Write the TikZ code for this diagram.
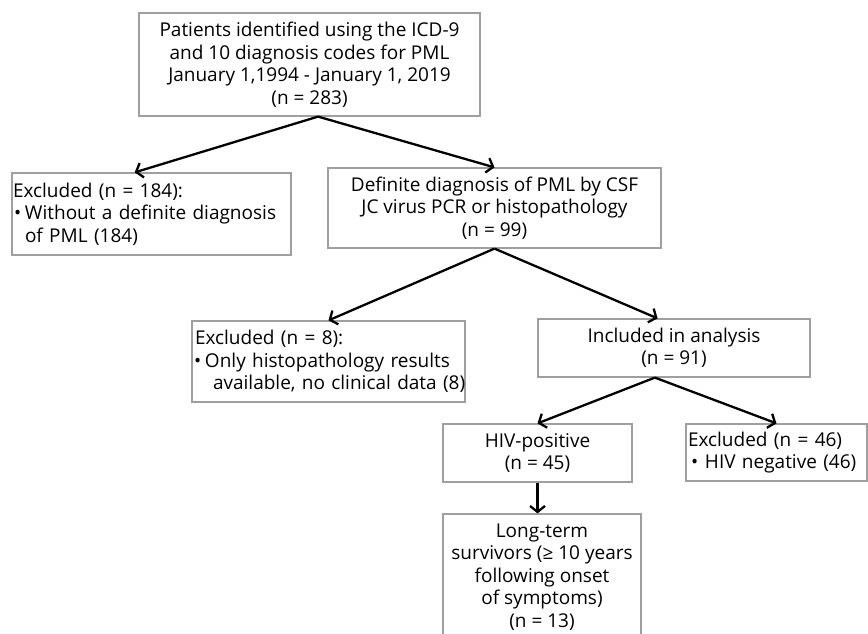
\documentclass[tikz,border=0pt]{standalone}
\usepackage{fontspec}
\setmainfont{Open Sans}
\usetikzlibrary{arrows.meta,calc}
\newcommand{\bul}[2]{\hspace*{#1}\makebox[#2][l]{\textbullet}}
\begin{document}
\begin{tikzpicture}[x=1pt,y=-1pt,
	box/.style={draw=gray!75,line width=1.2pt,inner sep=2pt,font=\fontsize{19pt}{22.5pt}\selectfont},
	arr/.style={line width=2.3pt,-{Straight Barb[length=6pt,width=15pt]}}]
	\useasboundingbox (0,0) rectangle (868,634);
	%boxes
	\node[box,minimum width=341pt,minimum height=103pt,align=center] (identified) at (309.5,64.5)
		{Patients identified using the ICD-9\\and 10 diagnosis codes for PML\\January 1,1994 - January 1, 2019\\(n = 283)};
	\node[box,text width=277pt,inner sep=1pt,minimum height=82pt,align=left] (excludedA) at (151.5,214)
		{Excluded (n = 184):\\\mbox{\bul{1pt}{11pt}Without a definite diagnosis}\\\hspace*{12pt}of PML (184)};
	\node[box,minimum width=333pt,minimum height=80pt,align=center] (definite) at (494.5,208)
		{Definite diagnosis of PML by CSF\\JC virus PCR or histopathology\\(n = 99)};
	\node[box,text width=267pt,inner sep=3pt,minimum height=81pt,align=left] (excludedB) at (328.5,361.5)
		{Excluded (n = 8):\\\mbox{\bul{-1pt}{11pt}Only histopathology results}\\\mbox{\hspace*{18pt}available, no clinical data (8)}};
	\node[box,minimum width=272pt,minimum height=58pt,align=center] (included) at (674,348)
		{Included in analysis\\(n = 91)};
	\node[box,minimum width=189pt,minimum height=58pt,align=center] (hivpos) at (537.5,453)
		{HIV-positive\\(n = 45)};
	\node[box,text width=177pt,minimum height=57pt,align=left] (excludedC) at (776.5,452.5)
		{Excluded (n = 46)\\\mbox{\bul{3pt}{14pt}HIV negative (46)}};
	\node[box,minimum width=198pt,minimum height=126pt,align=center] (longterm) at (542,577)
		{Long-term\\survivors (≥ 10 years\\following onset\\of symptoms)\\(n = 13)};
	%arrows
	\draw[arr] ($(identified.south west)!0.525!(identified.south east)$) -- ($(excludedA.north west)!0.44!(excludedA.north east)$);
	\draw[arr] ($(identified.south west)!0.525!(identified.south east)$) -- (definite.north);
	\draw[arr] (definite.south) -- (excludedB.north);
	\draw[arr] (definite.south) -- ($(included.north west)!0.44!(included.north east)$);
	\draw[arr] ($(included.south west)!0.43!(included.south east)$) -- (hivpos.north);
	\draw[arr] ($(included.south west)!0.43!(included.south east)$) -- (excludedC.north);
	\draw[arr] (hivpos.south) -- (hivpos.south |- longterm.north);
\end{tikzpicture}
\end{document}
